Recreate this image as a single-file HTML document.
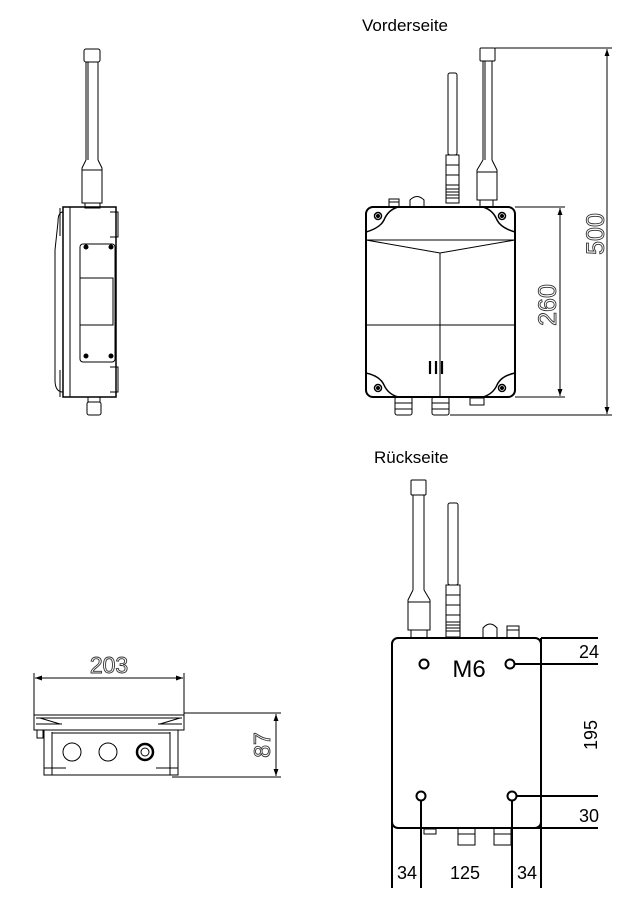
<!DOCTYPE html>
<html><head><meta charset="utf-8"><style>
html,body{margin:0;padding:0;background:#fff}
svg{display:block}
text{font-family:"Liberation Sans",sans-serif}
</style></head><body>
<svg width="635" height="909" viewBox="0 0 635 909" xmlns="http://www.w3.org/2000/svg">
<defs>
<marker id="a" viewBox="0 0 10 10" refX="10" refY="5" markerWidth="9" markerHeight="7" orient="auto-start-reverse" markerUnits="userSpaceOnUse"><path d="M0,1.5 L10,5 L0,8.5z" fill="#000"/></marker>
</defs>
<g fill="none" stroke="#000" stroke-width="1">
<!-- ===== FRONT VIEW ===== -->
<rect x="366" y="207" width="149" height="190" rx="7" stroke-width="2"/>
<path d="M366,240 H515 M366,240 L440,253 L515,240 M440,253 V397 M366,325 H515"/>
<path d="M366,232 Q380,228 384,220 Q388,210 398,207" stroke-width="1.5"/>
<path d="M515,232 Q501,228 497,220 Q493,210 483,207" stroke-width="1.5"/>
<path d="M366,373 Q380,376 384,385 Q388,394 398,397" stroke-width="1.5"/>
<path d="M515,373 Q501,376 497,385 Q493,394 483,397" stroke-width="1.5"/>
<circle cx="378" cy="216" r="3.5" stroke-width="1.5"/><circle cx="378" cy="216" r="1.5" fill="#000"/>
<circle cx="502" cy="216" r="3.5" stroke-width="1.5"/><circle cx="502" cy="216" r="1.5" fill="#000"/>
<circle cx="378" cy="388" r="3.5" stroke-width="1.5"/><circle cx="378" cy="388" r="1.5" fill="#000"/>
<circle cx="502" cy="388" r="3.5" stroke-width="1.5"/><circle cx="502" cy="388" r="1.5" fill="#000"/>
<path d="M430,361 V374 M436,361 V374 M442,361 V374" stroke-width="2.2"/>
<!-- right antenna -->
<rect x="480" y="48" width="15" height="13" rx="1"/>
<path d="M483,61 V160 M492,61 V160 M485,61 V160"/>
<path d="M483,160 L477,170 V200 H497 V170 L492,160"/>
<path d="M477,172 H497"/>
<rect x="480" y="200" width="13" height="7"/>
<!-- left antenna -->
<rect x="448" y="73" width="9" height="82" rx="2"/>
<rect x="446" y="155" width="13" height="48"/>
<path d="M446,165 H459 M446,175 H459 M446,185 H459 M446,189 H459 M446,192 H459 M446,195 H459 M446,198 H459"/>
<!-- small top connectors -->
<rect x="389" y="199" width="10" height="8"/><path d="M389,202 H399"/>
<path d="M410,207 V200 Q417,193 424,200 V207"/>
<!-- bottom connectors -->
<rect x="395" y="397" width="17" height="18" rx="2"/><path d="M395,403 H412 M395,409 H412"/>
<rect x="432" y="397" width="17" height="18" rx="2"/><path d="M432,403 H449 M432,409 H449"/>
<rect x="470" y="398" width="14" height="7"/>
<!-- dims front -->
<path d="M515,207 H565 M515,397 H565"/>
<path d="M560,208 V396" marker-start="url(#a)" marker-end="url(#a)"/>
<path d="M495,48 H612 M450,415 H612"/>
<path d="M607,49 V414" marker-start="url(#a)" marker-end="url(#a)"/>

<!-- ===== SIDE VIEW ===== -->
<rect x="84" y="49" width="16" height="13" rx="2"/>
<path d="M86,62 V160 M98,62 V160 M88,62 V160"/>
<path d="M86,160 L82,168 V203 H102 V168 L98,160 M82,170 H102"/>
<rect x="85" y="203" width="15" height="5"/>
<path d="M63,207 H116 V397 H63 Z" stroke-width="1.5"/>
<path d="M70,207 V397"/>
<path d="M63,212 Q58,212 58,222 L55,250 V380 Q55,392 63,392"/>
<path d="M60,208 V236 M60,370 V397"/>
<path d="M110,212 H118 V237 H110 M110,367 H118 V392 H110"/>
<rect x="80" y="244" width="35" height="118" rx="3"/>
<rect x="80" y="278" width="33" height="47"/>
<circle cx="86" cy="247" r="2" fill="#000"/><circle cx="111" cy="247" r="2" fill="#000"/>
<circle cx="86" cy="356" r="2" fill="#000"/><circle cx="111" cy="356" r="2" fill="#000"/>
<rect x="88" y="397" width="12" height="5"/>
<rect x="87" y="402" width="14" height="13" rx="2"/>

<!-- ===== BOTTOM VIEW ===== -->
<path d="M34,673 V722 M184,673 V720"/>
<path d="M35,678 H183" marker-start="url(#a)" marker-end="url(#a)"/>
<path d="M34,715 H184 V730 H34 Z"/>
<path d="M36,718 H182 M40,718 L60,724 M180,718 L160,724 M36,724 H62 M158,724 H182"/>
<path d="M37,730 V738 H43 V730"/>
<path d="M44,730 V775 H178 V730 M52,732 V775 M170,732 V775 M52,733 H170"/>
<path d="M44,768 H66 M156,768 H178"/>
<circle cx="72" cy="752" r="9"/><circle cx="108" cy="752" r="9"/>
<circle cx="145" cy="752" r="8" stroke-width="2.5"/><circle cx="145" cy="752" r="4"/>
<path d="M184,713 H281 M172,777 H281"/>
<path d="M276,714 V776" marker-start="url(#a)" marker-end="url(#a)"/>

<!-- ===== REAR VIEW ===== -->
<rect x="392" y="638" width="149" height="190" rx="6" stroke-width="2"/>
<rect x="411" y="480" width="15" height="15" rx="1"/>
<path d="M413,495 V590 M424,495 V590"/>
<path d="M413,590 L408,600 V630 H430 V600 L424,590 M408,602 H430"/>
<rect x="411" y="630" width="16" height="8"/>
<rect x="448" y="503" width="10" height="82" rx="2"/>
<rect x="446" y="585" width="14" height="52"/>
<path d="M446,595 H460 M446,605 H460 M446,615 H460 M446,622 H460 M446,625 H460 M446,628 H460 M446,631 H460"/>
<path d="M483,638 V628 Q490,620 497,628 V638"/>
<rect x="507" y="626" width="12" height="12"/><path d="M507,630 H519"/>
<rect x="458" y="828" width="17" height="17"/><path d="M458,834 H475"/>
<rect x="494" y="828" width="17" height="17"/><path d="M494,834 H511"/>
<rect x="424" y="829" width="12" height="5"/>
<g stroke-width="2">
<circle cx="424" cy="664" r="4.5"/><circle cx="510" cy="664" r="4.5"/>
<circle cx="421" cy="796" r="4.5"/><circle cx="512" cy="796" r="4.5"/>
<path d="M541,638 H598 M515,664 H598 M517,796 H598 M515,828 H598"/>
<path d="M392,803 V888 M421,801 V888 M512,801 V888 M541,638 V888"/>
</g>
</g>
<!-- text -->
<text x="362" y="31" font-size="17" fill="#000">Vorderseite</text>
<text x="374" y="463" font-size="17" fill="#000">Rückseite</text>
<g fill="none" stroke="#333" stroke-width="0.9" font-size="25" style="font-weight:100">
<text x="109" y="673" text-anchor="middle" font-size="23">203</text>
<text transform="translate(270,745) rotate(-90)" text-anchor="middle" font-size="23">87</text>
<text transform="translate(556,305) rotate(-90)" text-anchor="middle">260</text>
<text transform="translate(604,234) rotate(-90)" text-anchor="middle">500</text>
</g>
<text x="469" y="677" font-size="24" text-anchor="middle" fill="#000">M6</text>
<text x="589" y="658" font-size="18" text-anchor="middle" fill="#000">24</text>
<text x="589" y="822" font-size="18" text-anchor="middle" fill="#000">30</text>
<text transform="translate(597,735) rotate(-90)" font-size="18" text-anchor="middle" fill="#000">195</text>
<text x="407" y="879" font-size="18" text-anchor="middle" fill="#000">34</text>
<text x="465" y="879" font-size="18" text-anchor="middle" fill="#000">125</text>
<text x="527" y="879" font-size="18" text-anchor="middle" fill="#000">34</text>
</svg>
</body></html>
